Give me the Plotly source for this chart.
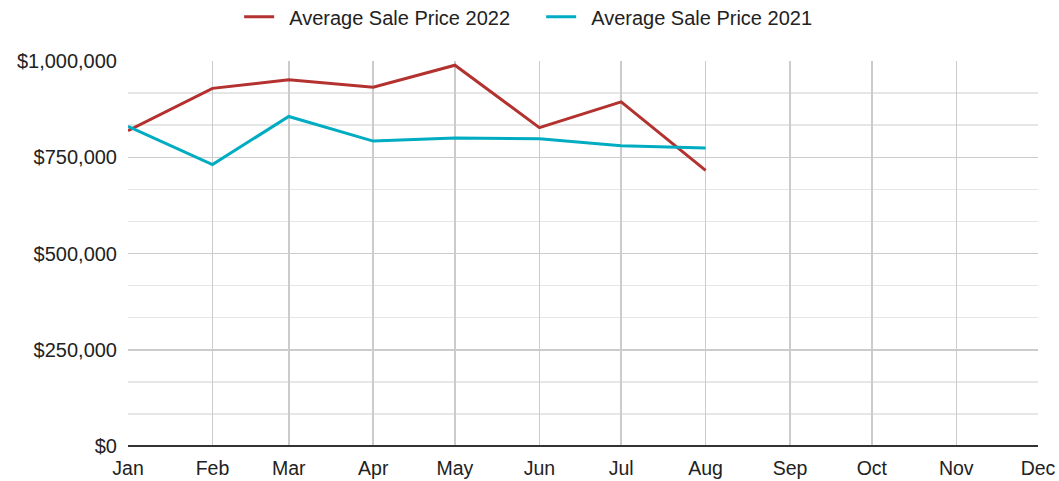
import plotly.graph_objects as go

months = ["2022-01-01", "2022-02-01", "2022-03-01", "2022-04-01", "2022-05-01",
          "2022-06-01", "2022-07-01", "2022-08-01"]
price_2022 = [819000, 929000, 951000, 932000, 989000, 827000, 894000, 716000]
price_2021 = [830000, 731000, 856000, 792000, 800000, 798000, 780000, 774000]

FONT = "Liberation Sans, Arial, sans-serif"

fig = go.Figure()
fig.add_trace(go.Scatter(x=months, y=price_2022, mode="lines",
                         name="\u2002Average Sale Price 2022",
                         line=dict(color="#b3322f", width=3)))
fig.add_trace(go.Scatter(x=months, y=price_2021, mode="lines",
                         name="\u2002Average Sale Price 2021",
                         line=dict(color="#00acc1", width=3)))

fig.update_layout(
    width=1059, height=481,
    margin=dict(l=128, r=21, t=61, b=35, autoexpand=False),
    paper_bgcolor="white", plot_bgcolor="white",
    font=dict(family=FONT, size=20, color="#222222"),
    showlegend=True,
    legend=dict(orientation="h", xref="container", yref="container",
                x=0.511, xanchor="center", y=0.965, yanchor="middle",
                font=dict(size=20, color="#222222"),
                itemwidth=30, entrywidth=257),
    hovermode=False,
)
fig.update_xaxes(
    type="date", range=["2022-01-01", "2022-12-01"],
    dtick="M1", tick0="2022-01-01", tickformat="%b",
    showgrid=True, gridcolor="#cccccc", gridwidth=1.5,
    showline=False, zeroline=False, ticks="", ticklabelstandoff=8,
    automargin=False,
    tickfont=dict(size=19.5, color="#222222"),
)
fig.update_yaxes(
    range=[0, 1000000], dtick=250000, tickformat="$,.0f",
    showgrid=True, gridcolor="#cccccc", gridwidth=1.5,
    minor=dict(dtick=250000 / 3, showgrid=True, gridcolor="#e6e6e6", gridwidth=1.5),
    zeroline=True, zerolinecolor="#333333", zerolinewidth=1.5,
    showline=False, ticks="", ticklabelstandoff=10,
    automargin=False,
    tickfont=dict(size=20, color="#222222"),
)

fig.write_html(
    "out.html",
    config={"displayModeBar": False, "staticPlot": True},
    post_script="document.body.style.margin='0';document.body.style.overflow='hidden';",
)
